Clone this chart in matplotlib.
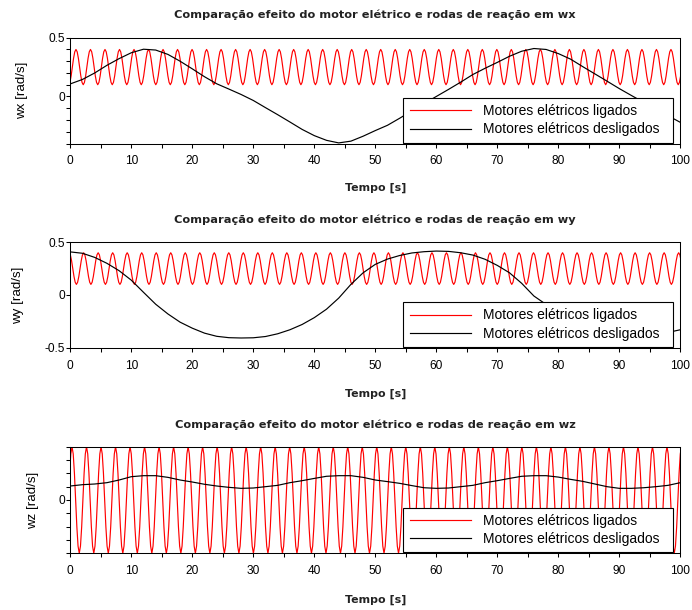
import numpy as np
import matplotlib
matplotlib.use("Agg")
import matplotlib.pyplot as plt
from matplotlib.ticker import FixedLocator, MultipleLocator

plt.rcParams['font.family'] = ['Liberation Sans', 'DejaVu Sans']

# ---------------- data ----------------
# slow curves ("Motores elétricos desligados"), sampled every 2 s
t_off = [0, 2, 4, 6, 8, 10, 12, 14, 16, 18, 20, 22, 24, 26, 28, 30, 32, 34, 36, 38,
         40, 42, 44, 46, 48, 50, 52, 54, 56, 58, 60, 62, 64, 66, 68, 70, 72, 74, 76, 78,
         80, 82, 84, 86, 88, 90, 92, 94, 96, 98, 100]
wx_off = [0.107, 0.145, 0.20, 0.265, 0.322, 0.372, 0.402, 0.395, 0.358, 0.30,
          0.235, 0.168, 0.108, 0.063, 0.017, -0.034, -0.095, -0.155, -0.217, -0.28,
          -0.333, -0.373, -0.395, -0.38, -0.338, -0.29, -0.245, -0.185, -0.122, -0.06,
          0.0, 0.06, 0.122, 0.187, 0.24, 0.29, 0.342, 0.385, 0.408, 0.40,
          0.365, 0.318, 0.254, 0.192, 0.13, 0.067, 0.008, -0.05, -0.107, -0.164, -0.22]
wy_off = [0.408, 0.395, 0.356, 0.30, 0.23, 0.14, 0.025, -0.088, -0.18, -0.258,
          -0.315, -0.362, -0.392, -0.405, -0.408, -0.406, -0.394, -0.368, -0.33, -0.28,
          -0.215, -0.135, -0.03, 0.10, 0.21, 0.29, 0.34, 0.374, 0.398, 0.41,
          0.416, 0.413, 0.40, 0.378, 0.338, 0.28, 0.21, 0.11, -0.01, -0.09,
          -0.17, -0.24, -0.295, -0.34, -0.37, -0.39, -0.395, -0.39, -0.375, -0.355, -0.33]
wz_off = [0.105, 0.115, 0.12, 0.13, 0.15, 0.175, 0.1825, 0.1825, 0.17, 0.15,
          0.135, 0.118, 0.105, 0.095, 0.0875, 0.09, 0.10, 0.11, 0.13, 0.145,
          0.162, 0.178, 0.1825, 0.1825, 0.17, 0.15, 0.138, 0.125, 0.108, 0.092,
          0.0875, 0.09, 0.10, 0.11, 0.13, 0.145, 0.162, 0.178, 0.1825, 0.1825,
          0.172, 0.155, 0.14, 0.12, 0.10, 0.0875, 0.0875, 0.092, 0.10, 0.11, 0.13]

# fast oscillations ("Motores elétricos ligados"): period read as 2.379 s,
# values read 12 times per period, starting at a peak
period_on = 2.379
wx_on_start = -1.449
wy_on_start = -0.189
wz_on_start = -2.099
wx_on = [
    0.40, 0.38, 0.325, 0.25, 0.175, 0.12, 0.10, 0.12, 0.175, 0.25, 0.325, 0.38,
    0.40, 0.38, 0.325, 0.25, 0.175, 0.12, 0.10, 0.12, 0.175, 0.25, 0.325, 0.38,
    0.40, 0.38, 0.325, 0.25, 0.175, 0.12, 0.10, 0.12, 0.175, 0.25, 0.325, 0.38,
    0.40, 0.38, 0.325, 0.25, 0.175, 0.12, 0.10, 0.12, 0.175, 0.25, 0.325, 0.38,
    0.40, 0.38, 0.325, 0.25, 0.175, 0.12, 0.10, 0.12, 0.175, 0.25, 0.325, 0.38,
    0.40, 0.38, 0.325, 0.25, 0.175, 0.12, 0.10, 0.12, 0.175, 0.25, 0.325, 0.38,
    0.40, 0.38, 0.325, 0.25, 0.175, 0.12, 0.10, 0.12, 0.175, 0.25, 0.325, 0.38,
    0.40, 0.38, 0.325, 0.25, 0.175, 0.12, 0.10, 0.12, 0.175, 0.25, 0.325, 0.38,
    0.40, 0.38, 0.325, 0.25, 0.175, 0.12, 0.10, 0.12, 0.175, 0.25, 0.325, 0.38,
    0.40, 0.38, 0.325, 0.25, 0.175, 0.12, 0.10, 0.12, 0.175, 0.25, 0.325, 0.38,
    0.40, 0.38, 0.325, 0.25, 0.175, 0.12, 0.10, 0.12, 0.175, 0.25, 0.325, 0.38,
    0.40, 0.38, 0.325, 0.25, 0.175, 0.12, 0.10, 0.12, 0.175, 0.25, 0.325, 0.38,
    0.40, 0.38, 0.325, 0.25, 0.175, 0.12, 0.10, 0.12, 0.175, 0.25, 0.325, 0.38,
    0.40, 0.38, 0.325, 0.25, 0.175, 0.12, 0.10, 0.12, 0.175, 0.25, 0.325, 0.38,
    0.40, 0.38, 0.325, 0.25, 0.175, 0.12, 0.10, 0.12, 0.175, 0.25, 0.325, 0.38,
    0.40, 0.38, 0.325, 0.25, 0.175, 0.12, 0.10, 0.12, 0.175, 0.25, 0.325, 0.38,
    0.40, 0.38, 0.325, 0.25, 0.175, 0.12, 0.10, 0.12, 0.175, 0.25, 0.325, 0.38,
    0.40, 0.38, 0.325, 0.25, 0.175, 0.12, 0.10, 0.12, 0.175, 0.25, 0.325, 0.38,
    0.40, 0.38, 0.325, 0.25, 0.175, 0.12, 0.10, 0.12, 0.175, 0.25, 0.325, 0.38,
    0.40, 0.38, 0.325, 0.25, 0.175, 0.12, 0.10, 0.12, 0.175, 0.25, 0.325, 0.38,
    0.40, 0.38, 0.325, 0.25, 0.175, 0.12, 0.10, 0.12, 0.175, 0.25, 0.325, 0.38,
    0.40, 0.38, 0.325, 0.25, 0.175, 0.12, 0.10, 0.12, 0.175, 0.25, 0.325, 0.38,
    0.40, 0.38, 0.325, 0.25, 0.175, 0.12, 0.10, 0.12, 0.175, 0.25, 0.325, 0.38,
    0.40, 0.38, 0.325, 0.25, 0.175, 0.12, 0.10, 0.12, 0.175, 0.25, 0.325, 0.38,
    0.40, 0.38, 0.325, 0.25, 0.175, 0.12, 0.10, 0.12, 0.175, 0.25, 0.325, 0.38,
    0.40, 0.38, 0.325, 0.25, 0.175, 0.12, 0.10, 0.12, 0.175, 0.25, 0.325, 0.38,
    0.40, 0.38, 0.325, 0.25, 0.175, 0.12, 0.10, 0.12, 0.175, 0.25, 0.325, 0.38,
    0.40, 0.38, 0.325, 0.25, 0.175, 0.12, 0.10, 0.12, 0.175, 0.25, 0.325, 0.38,
    0.40, 0.38, 0.325, 0.25, 0.175, 0.12, 0.10, 0.12, 0.175, 0.25, 0.325, 0.38,
    0.40, 0.38, 0.325, 0.25, 0.175, 0.12, 0.10, 0.12, 0.175, 0.25, 0.325, 0.38,
    0.40, 0.38, 0.325, 0.25, 0.175, 0.12, 0.10, 0.12, 0.175, 0.25, 0.325, 0.38,
    0.40, 0.38, 0.325, 0.25, 0.175, 0.12, 0.10, 0.12, 0.175, 0.25, 0.325, 0.38,
    0.40, 0.38, 0.325, 0.25, 0.175, 0.12, 0.10, 0.12, 0.175, 0.25, 0.325, 0.38,
    0.40, 0.38, 0.325, 0.25, 0.175, 0.12, 0.10, 0.12, 0.175, 0.25, 0.325, 0.38,
    0.40, 0.38, 0.325, 0.25, 0.175, 0.12, 0.10, 0.12, 0.175, 0.25, 0.325, 0.38,
    0.40, 0.38, 0.325, 0.25, 0.175, 0.12, 0.10, 0.12, 0.175, 0.25, 0.325, 0.38,
    0.40, 0.38, 0.325, 0.25, 0.175, 0.12, 0.10, 0.12, 0.175, 0.25, 0.325, 0.38,
    0.40, 0.38, 0.325, 0.25, 0.175, 0.12, 0.10, 0.12, 0.175, 0.25, 0.325, 0.38,
    0.40, 0.38, 0.325, 0.25, 0.175, 0.12, 0.10, 0.12, 0.175, 0.25, 0.325, 0.38,
    0.40, 0.38, 0.325, 0.25, 0.175, 0.12, 0.10, 0.12, 0.175, 0.25, 0.325, 0.38,
    0.40, 0.38, 0.325, 0.25, 0.175, 0.12, 0.10, 0.12, 0.175, 0.25, 0.325, 0.38,
    0.40, 0.38, 0.325, 0.25, 0.175, 0.12, 0.10, 0.12, 0.175, 0.25, 0.325, 0.38,
    0.40, 0.38, 0.325, 0.25, 0.175, 0.12, 0.10, 0.12, 0.175, 0.25, 0.325, 0.38,
    0.40, 0.38, 0.325, 0.25, 0.175, 0.12, 0.10, 0.12, 0.175, 0.25, 0.325, 0.38,
]
wy_on = [
    0.40, 0.38, 0.325, 0.25, 0.175, 0.12, 0.10, 0.12, 0.175, 0.25, 0.325, 0.38,
    0.40, 0.38, 0.325, 0.25, 0.175, 0.12, 0.10, 0.12, 0.175, 0.25, 0.325, 0.38,
    0.40, 0.38, 0.325, 0.25, 0.175, 0.12, 0.10, 0.12, 0.175, 0.25, 0.325, 0.38,
    0.40, 0.38, 0.325, 0.25, 0.175, 0.12, 0.10, 0.12, 0.175, 0.25, 0.325, 0.38,
    0.40, 0.38, 0.325, 0.25, 0.175, 0.12, 0.10, 0.12, 0.175, 0.25, 0.325, 0.38,
    0.40, 0.38, 0.325, 0.25, 0.175, 0.12, 0.10, 0.12, 0.175, 0.25, 0.325, 0.38,
    0.40, 0.38, 0.325, 0.25, 0.175, 0.12, 0.10, 0.12, 0.175, 0.25, 0.325, 0.38,
    0.40, 0.38, 0.325, 0.25, 0.175, 0.12, 0.10, 0.12, 0.175, 0.25, 0.325, 0.38,
    0.40, 0.38, 0.325, 0.25, 0.175, 0.12, 0.10, 0.12, 0.175, 0.25, 0.325, 0.38,
    0.40, 0.38, 0.325, 0.25, 0.175, 0.12, 0.10, 0.12, 0.175, 0.25, 0.325, 0.38,
    0.40, 0.38, 0.325, 0.25, 0.175, 0.12, 0.10, 0.12, 0.175, 0.25, 0.325, 0.38,
    0.40, 0.38, 0.325, 0.25, 0.175, 0.12, 0.10, 0.12, 0.175, 0.25, 0.325, 0.38,
    0.40, 0.38, 0.325, 0.25, 0.175, 0.12, 0.10, 0.12, 0.175, 0.25, 0.325, 0.38,
    0.40, 0.38, 0.325, 0.25, 0.175, 0.12, 0.10, 0.12, 0.175, 0.25, 0.325, 0.38,
    0.40, 0.38, 0.325, 0.25, 0.175, 0.12, 0.10, 0.12, 0.175, 0.25, 0.325, 0.38,
    0.40, 0.38, 0.325, 0.25, 0.175, 0.12, 0.10, 0.12, 0.175, 0.25, 0.325, 0.38,
    0.40, 0.38, 0.325, 0.25, 0.175, 0.12, 0.10, 0.12, 0.175, 0.25, 0.325, 0.38,
    0.40, 0.38, 0.325, 0.25, 0.175, 0.12, 0.10, 0.12, 0.175, 0.25, 0.325, 0.38,
    0.40, 0.38, 0.325, 0.25, 0.175, 0.12, 0.10, 0.12, 0.175, 0.25, 0.325, 0.38,
    0.40, 0.38, 0.325, 0.25, 0.175, 0.12, 0.10, 0.12, 0.175, 0.25, 0.325, 0.38,
    0.40, 0.38, 0.325, 0.25, 0.175, 0.12, 0.10, 0.12, 0.175, 0.25, 0.325, 0.38,
    0.40, 0.38, 0.325, 0.25, 0.175, 0.12, 0.10, 0.12, 0.175, 0.25, 0.325, 0.38,
    0.40, 0.38, 0.325, 0.25, 0.175, 0.12, 0.10, 0.12, 0.175, 0.25, 0.325, 0.38,
    0.40, 0.38, 0.325, 0.25, 0.175, 0.12, 0.10, 0.12, 0.175, 0.25, 0.325, 0.38,
    0.40, 0.38, 0.325, 0.25, 0.175, 0.12, 0.10, 0.12, 0.175, 0.25, 0.325, 0.38,
    0.40, 0.38, 0.325, 0.25, 0.175, 0.12, 0.10, 0.12, 0.175, 0.25, 0.325, 0.38,
    0.40, 0.38, 0.325, 0.25, 0.175, 0.12, 0.10, 0.12, 0.175, 0.25, 0.325, 0.38,
    0.40, 0.38, 0.325, 0.25, 0.175, 0.12, 0.10, 0.12, 0.175, 0.25, 0.325, 0.38,
    0.40, 0.38, 0.325, 0.25, 0.175, 0.12, 0.10, 0.12, 0.175, 0.25, 0.325, 0.38,
    0.40, 0.38, 0.325, 0.25, 0.175, 0.12, 0.10, 0.12, 0.175, 0.25, 0.325, 0.38,
    0.40, 0.38, 0.325, 0.25, 0.175, 0.12, 0.10, 0.12, 0.175, 0.25, 0.325, 0.38,
    0.40, 0.38, 0.325, 0.25, 0.175, 0.12, 0.10, 0.12, 0.175, 0.25, 0.325, 0.38,
    0.40, 0.38, 0.325, 0.25, 0.175, 0.12, 0.10, 0.12, 0.175, 0.25, 0.325, 0.38,
    0.40, 0.38, 0.325, 0.25, 0.175, 0.12, 0.10, 0.12, 0.175, 0.25, 0.325, 0.38,
    0.40, 0.38, 0.325, 0.25, 0.175, 0.12, 0.10, 0.12, 0.175, 0.25, 0.325, 0.38,
    0.40, 0.38, 0.325, 0.25, 0.175, 0.12, 0.10, 0.12, 0.175, 0.25, 0.325, 0.38,
    0.40, 0.38, 0.325, 0.25, 0.175, 0.12, 0.10, 0.12, 0.175, 0.25, 0.325, 0.38,
    0.40, 0.38, 0.325, 0.25, 0.175, 0.12, 0.10, 0.12, 0.175, 0.25, 0.325, 0.38,
    0.40, 0.38, 0.325, 0.25, 0.175, 0.12, 0.10, 0.12, 0.175, 0.25, 0.325, 0.38,
    0.40, 0.38, 0.325, 0.25, 0.175, 0.12, 0.10, 0.12, 0.175, 0.25, 0.325, 0.38,
    0.40, 0.38, 0.325, 0.25, 0.175, 0.12, 0.10, 0.12, 0.175, 0.25, 0.325, 0.38,
    0.40, 0.38, 0.325, 0.25, 0.175, 0.12, 0.10, 0.12, 0.175, 0.25, 0.325, 0.38,
    0.40, 0.38, 0.325, 0.25, 0.175, 0.12, 0.10, 0.12, 0.175, 0.25, 0.325, 0.38,
    0.40, 0.38, 0.325, 0.25, 0.175, 0.12, 0.10, 0.12, 0.175, 0.25, 0.325, 0.38,
]
wz_on = [
    0.40, 0.346, 0.20, 0.0, -0.20, -0.346, -0.40, -0.346, -0.20, 0.0, 0.20, 0.346,
    0.40, 0.346, 0.20, 0.0, -0.20, -0.346, -0.40, -0.346, -0.20, 0.0, 0.20, 0.346,
    0.40, 0.346, 0.20, 0.0, -0.20, -0.346, -0.40, -0.346, -0.20, 0.0, 0.20, 0.346,
    0.40, 0.346, 0.20, 0.0, -0.20, -0.346, -0.40, -0.346, -0.20, 0.0, 0.20, 0.346,
    0.40, 0.346, 0.20, 0.0, -0.20, -0.346, -0.40, -0.346, -0.20, 0.0, 0.20, 0.346,
    0.40, 0.346, 0.20, 0.0, -0.20, -0.346, -0.40, -0.346, -0.20, 0.0, 0.20, 0.346,
    0.40, 0.346, 0.20, 0.0, -0.20, -0.346, -0.40, -0.346, -0.20, 0.0, 0.20, 0.346,
    0.40, 0.346, 0.20, 0.0, -0.20, -0.346, -0.40, -0.346, -0.20, 0.0, 0.20, 0.346,
    0.40, 0.346, 0.20, 0.0, -0.20, -0.346, -0.40, -0.346, -0.20, 0.0, 0.20, 0.346,
    0.40, 0.346, 0.20, 0.0, -0.20, -0.346, -0.40, -0.346, -0.20, 0.0, 0.20, 0.346,
    0.40, 0.346, 0.20, 0.0, -0.20, -0.346, -0.40, -0.346, -0.20, 0.0, 0.20, 0.346,
    0.40, 0.346, 0.20, 0.0, -0.20, -0.346, -0.40, -0.346, -0.20, 0.0, 0.20, 0.346,
    0.40, 0.346, 0.20, 0.0, -0.20, -0.346, -0.40, -0.346, -0.20, 0.0, 0.20, 0.346,
    0.40, 0.346, 0.20, 0.0, -0.20, -0.346, -0.40, -0.346, -0.20, 0.0, 0.20, 0.346,
    0.40, 0.346, 0.20, 0.0, -0.20, -0.346, -0.40, -0.346, -0.20, 0.0, 0.20, 0.346,
    0.40, 0.346, 0.20, 0.0, -0.20, -0.346, -0.40, -0.346, -0.20, 0.0, 0.20, 0.346,
    0.40, 0.346, 0.20, 0.0, -0.20, -0.346, -0.40, -0.346, -0.20, 0.0, 0.20, 0.346,
    0.40, 0.346, 0.20, 0.0, -0.20, -0.346, -0.40, -0.346, -0.20, 0.0, 0.20, 0.346,
    0.40, 0.346, 0.20, 0.0, -0.20, -0.346, -0.40, -0.346, -0.20, 0.0, 0.20, 0.346,
    0.40, 0.346, 0.20, 0.0, -0.20, -0.346, -0.40, -0.346, -0.20, 0.0, 0.20, 0.346,
    0.40, 0.346, 0.20, 0.0, -0.20, -0.346, -0.40, -0.346, -0.20, 0.0, 0.20, 0.346,
    0.40, 0.346, 0.20, 0.0, -0.20, -0.346, -0.40, -0.346, -0.20, 0.0, 0.20, 0.346,
    0.40, 0.346, 0.20, 0.0, -0.20, -0.346, -0.40, -0.346, -0.20, 0.0, 0.20, 0.346,
    0.40, 0.346, 0.20, 0.0, -0.20, -0.346, -0.40, -0.346, -0.20, 0.0, 0.20, 0.346,
    0.40, 0.346, 0.20, 0.0, -0.20, -0.346, -0.40, -0.346, -0.20, 0.0, 0.20, 0.346,
    0.40, 0.346, 0.20, 0.0, -0.20, -0.346, -0.40, -0.346, -0.20, 0.0, 0.20, 0.346,
    0.40, 0.346, 0.20, 0.0, -0.20, -0.346, -0.40, -0.346, -0.20, 0.0, 0.20, 0.346,
    0.40, 0.346, 0.20, 0.0, -0.20, -0.346, -0.40, -0.346, -0.20, 0.0, 0.20, 0.346,
    0.40, 0.346, 0.20, 0.0, -0.20, -0.346, -0.40, -0.346, -0.20, 0.0, 0.20, 0.346,
    0.40, 0.346, 0.20, 0.0, -0.20, -0.346, -0.40, -0.346, -0.20, 0.0, 0.20, 0.346,
    0.40, 0.346, 0.20, 0.0, -0.20, -0.346, -0.40, -0.346, -0.20, 0.0, 0.20, 0.346,
    0.40, 0.346, 0.20, 0.0, -0.20, -0.346, -0.40, -0.346, -0.20, 0.0, 0.20, 0.346,
    0.40, 0.346, 0.20, 0.0, -0.20, -0.346, -0.40, -0.346, -0.20, 0.0, 0.20, 0.346,
    0.40, 0.346, 0.20, 0.0, -0.20, -0.346, -0.40, -0.346, -0.20, 0.0, 0.20, 0.346,
    0.40, 0.346, 0.20, 0.0, -0.20, -0.346, -0.40, -0.346, -0.20, 0.0, 0.20, 0.346,
    0.40, 0.346, 0.20, 0.0, -0.20, -0.346, -0.40, -0.346, -0.20, 0.0, 0.20, 0.346,
    0.40, 0.346, 0.20, 0.0, -0.20, -0.346, -0.40, -0.346, -0.20, 0.0, 0.20, 0.346,
    0.40, 0.346, 0.20, 0.0, -0.20, -0.346, -0.40, -0.346, -0.20, 0.0, 0.20, 0.346,
    0.40, 0.346, 0.20, 0.0, -0.20, -0.346, -0.40, -0.346, -0.20, 0.0, 0.20, 0.346,
    0.40, 0.346, 0.20, 0.0, -0.20, -0.346, -0.40, -0.346, -0.20, 0.0, 0.20, 0.346,
    0.40, 0.346, 0.20, 0.0, -0.20, -0.346, -0.40, -0.346, -0.20, 0.0, 0.20, 0.346,
    0.40, 0.346, 0.20, 0.0, -0.20, -0.346, -0.40, -0.346, -0.20, 0.0, 0.20, 0.346,
    0.40, 0.346, 0.20, 0.0, -0.20, -0.346, -0.40, -0.346, -0.20, 0.0, 0.20, 0.346,
    0.40, 0.346, 0.20, 0.0, -0.20, -0.346, -0.40, -0.346, -0.20, 0.0, 0.20, 0.346,
]

x_ticks = [0, 10, 20, 30, 40, 50, 60, 70, 80, 90, 100]
axis_names = ['wx', 'wy', 'wz']
y_limits = [(-0.4, 0.5), (-0.5, 0.5), (-0.4, 0.4)]
y_major = [[0.0, 0.5], [-0.5, 0.0, 0.5], [0.0]]
y_major_labels = [['0', '0.5'], ['-0.5', '0', '0.5'], ['0']]
y_minor = [[-0.4, -0.3, -0.2, -0.1, 0.1, 0.2, 0.3, 0.4], [],
           [-0.4, -0.3, -0.2, -0.1, 0.1, 0.2, 0.3, 0.4]]
label_on = 'Motores elétricos ligados'
label_off = 'Motores elétricos desligados'
title_fmt = 'Comparação efeito do motor elétrico e rodas de reação em {}'

# ---------------- figure ----------------
W, H = 692, 610
fig = plt.figure(figsize=(W / 100, H / 100), dpi=100)
fig.patch.set_facecolor('white')


def rect(l, t, r, b):
    return [l / W, 1 - b / H, (r - l) / W, (b - t) / H]


ax_boxes = [(70.3, 37.7, 680.3, 143.5), (70.3, 242.2, 680.3, 347.7), (70.3, 446.7, 680.3, 553.3)]
title_y = [15, 220, 425]
xlabel_y = [188, 393.5, 600]
ylabel_x = [22, 18.5, 33.5]

on_series = [(wx_on, wx_on_start), (wy_on, wy_on_start), (wz_on, wz_on_start)]
off_series = [wx_off, wy_off, wz_off]

for i in range(3):
    l, t, r, b = ax_boxes[i]
    ax = fig.add_axes(rect(l, t, r, b))
    vals, start = on_series[i]
    dt = period_on / 12.0
    t_on = start + dt * np.arange(len(vals))
    ax.plot(t_on, vals, color='#ff0000', lw=0.85, label=label_on, zorder=2)
    ax.plot(t_off, off_series[i], color='black', lw=0.85, label=label_off, zorder=3)
    ax.set_xlim(0, 100)
    ax.set_ylim(*y_limits[i])
    ax.xaxis.set_major_locator(FixedLocator(x_ticks))
    ax.xaxis.set_minor_locator(MultipleLocator(5))
    ax.set_xticklabels([str(v) for v in x_ticks])
    ax.yaxis.set_major_locator(FixedLocator(y_major[i]))
    ax.set_yticklabels(y_major_labels[i])
    ax.yaxis.set_minor_locator(FixedLocator(y_minor[i]))
    ax.tick_params(which='both', direction='out', length=2.6, width=0.75, color='black')
    ax.tick_params(axis='x', which='major', pad=6.0, labelsize=8.6)
    ax.tick_params(axis='y', which='major', pad=1.2, labelsize=8.6)
    for sp in ax.spines.values():
        sp.set_linewidth(0.75)
        sp.set_color('black')
    cy = (t + b) / 2
    fig.text(ylabel_x[i] / W, 1 - cy / H, '{} [rad/s]'.format(axis_names[i]),
             rotation=90, ha='center', va='center', fontsize=9.6)
    fig.text((l + r) / 2 / W, 1 - title_y[i] / H, title_fmt.format(axis_names[i]),
             ha='center', va='center', fontsize=8.2, fontweight='bold',
             color='#222222', family=['DejaVu Sans'])
    fig.text((l + r) / 2 / W, 1 - xlabel_y[i] / H, 'Tempo [s]',
             ha='center', va='center', fontsize=7.9, fontweight='bold',
             color='#222222', family=['DejaVu Sans'])
    leg = ax.legend(loc='lower left', bbox_to_anchor=(0.5459, 0.008, 0.4426, 0.455),
                    mode='expand', borderaxespad=0, fontsize=10, frameon=True,
                    fancybox=False, framealpha=1, edgecolor='black',
                    handlelength=4.44, handletextpad=0.83, borderpad=0.45,
                    labelspacing=0.3)
    leg.get_frame().set_linewidth(0.8)
    leg.set_zorder(10)

fig.savefig('out.png', dpi=100, facecolor='white')
